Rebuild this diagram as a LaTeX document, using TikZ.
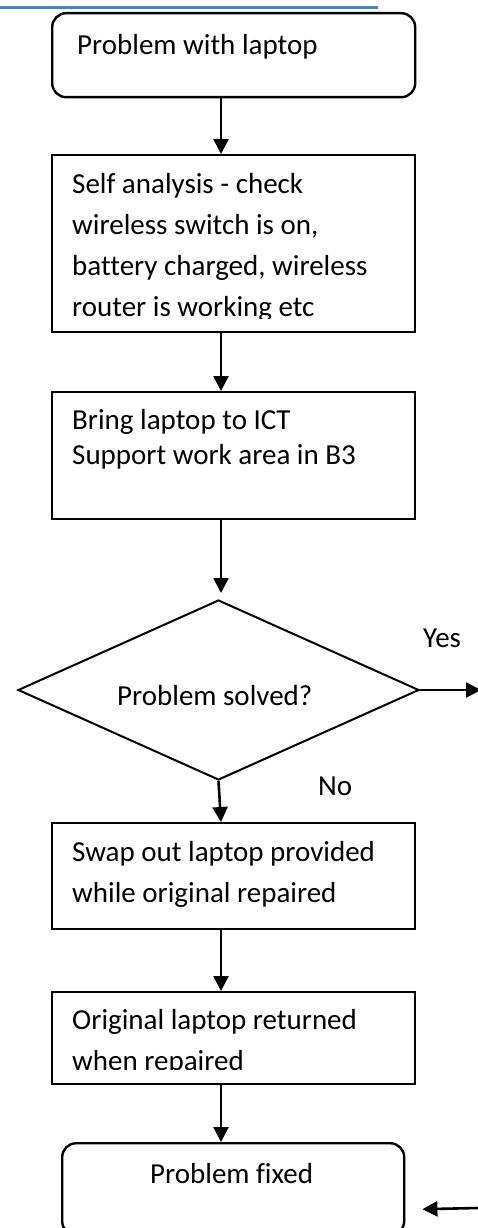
\documentclass[tikz,border=0pt]{standalone}
\usepackage{fontspec}
\setmainfont{Carlito}[Ligatures={NoCommon}]
\usetikzlibrary{shapes.geometric,arrows.meta}
\definecolor{rulecol}{RGB}{79,129,189}
\begin{document}
\begin{tikzpicture}[x=1pt,y=-1pt,
  box/.style={draw, line width=2pt, minimum width=363pt, inner sep=0pt, anchor=north west},
  rbox/.style={box, rounded corners=14pt, line width=2.4pt},
  txt/.style={anchor=base west, inner sep=0pt, font=\fontsize{29}{35}\selectfont},
  arr/.style={line width=2.6pt, -{Triangle[length=15pt,width=15pt]}}]
\useasboundingbox (0,0) rectangle (478,1228);
\fill[white] (0,0) rectangle (478,1228);
\draw[rulecol, line width=3pt] (0,8) -- (378,8);

% boxes
\node[rbox, minimum height=84pt] (box1) at (51,12) {};
\node[box, minimum height=177pt] (box2) at (51,154) {};
\node[box, minimum height=127pt] (box3) at (51,391) {};
\node[diamond, draw, line width=2pt, minimum width=401pt, minimum height=180pt, inner sep=0pt] (d) at (218.5,690) {};
\node[box, minimum height=106pt] (box4) at (51,822) {};
\node[box, minimum height=92pt] (box5) at (51,991) {};
\node[rbox, minimum width=342pt, minimum height=92pt] (box6) at (61,1142) {};

% texts
\node[txt] (t1) at (77,55) {Problem with laptop};
\begin{scope}
\clip (51,154) rectangle (414,318);
\node[txt] (t2a) at (72,193) {Self analysis - check};
\node[txt] (t2b) at (72,234) {wireless switch is on,};
\node[txt] (t2c) at (72,275) {battery charged, wireless};
\node[txt] (t2d) at (72,316) {router is working etc};
\end{scope}
\node[txt] (t3a) at (72,429) {Bring laptop to ICT};
\node[txt] (t3b) at (72,464) {Support work area in B3};
\node[txt] (td) at (117,705) {Problem solved?};
\node[txt] (yes) at (423,647) {Yes};
\node[txt] (no) at (318,795) {No};
\node[txt] (t4a) at (72,861) {Swap out laptop provided};
\node[txt] (t4b) at (72,902) {while original repaired};
\node[txt] (t5a) at (72,1029) {Original laptop returned};
\begin{scope}
\clip (51,991) rectangle (414,1069);
\node[txt] (t5b) at (72,1070) {when repaired};
\end{scope}
\node[txt] (t6) at (150,1183) {Problem fixed};

% connectors
\coordinate (yesend) at (481,690);
\coordinate (fixstart) at (478,1208);
\draw[arr] ([xshift=170pt]box1.south west) -- ([xshift=170pt]box2.north west);
\draw[arr] ([xshift=170pt]box2.south west) -- ([xshift=170pt]box3.north west);
\draw[arr, shorten >=6pt] ([xshift=170pt]box3.south west) -- ([xshift=2.5pt]d.north);
\draw[arr] (d.south) -- ([xshift=170pt]box4.north west);
\draw[arr] ([xshift=170pt]box4.south west) -- ([xshift=170pt]box5.north west);
\draw[arr] ([xshift=170pt]box5.south west) -- ([xshift=160pt]box6.north west);
\draw[arr] (d.east) -- (yesend);
\draw[arr] (fixstart) -- ([xshift=17pt,yshift=-20pt]box6.east);
\end{tikzpicture}
\end{document}
